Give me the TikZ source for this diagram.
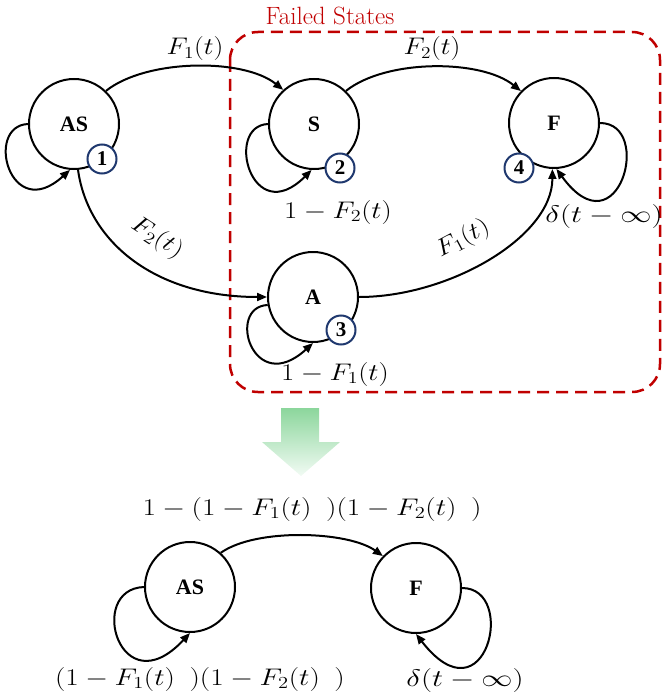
\RequirePackage{fix-cm}
\documentclass[tikz,border=0pt]{standalone}
\usepackage{fontspec}
\usepackage{graphicx}
\usetikzlibrary{arrows.meta}
\newfontfamily\tnr{Liberation Serif}
\definecolor{dred}{RGB}{192,0,0}
\definecolor{navy}{RGB}{31,56,110}
\definecolor{gtop}{RGB}{140,214,156}
\definecolor{gbot}{RGB}{242,251,244}
\newcommand\wideit[2]{\scalebox{#1}[1]{#2}}
\tikzset{
  state/.style={circle, draw=black, line width=2pt, minimum size=90pt, inner sep=0pt,
    font=\tnr\bfseries\fontsize{22}{26}\selectfont},
  badge/.style={circle, draw=navy, line width=2pt, fill=white, minimum size=29pt, inner sep=0pt,
    font=\tnr\bfseries\fontsize{21}{24}\selectfont},
  lab/.style={inner sep=0pt, font=\fontsize{24}{28}\selectfont},
  conn/.style={line width=2pt, -{Triangle[length=10pt,width=8pt]}}
}
\begin{document}
\begin{tikzpicture}[x=1pt,y=-1pt]
\useasboundingbox (0,0) rectangle (663,698);
% failed states box
\draw[dred, line width=2.5pt, dash pattern=on 12pt off 7pt, rounded corners=28pt]
  (230,32) rectangle (660,392);
\node[text=dred, inner sep=0pt, font=\fontsize{25}{28}\selectfont] (fs) at (330,16) {Failed States};
% states
\node[state] (AS) at (74,124) {AS};
\node[state] (S) at (314,124) {S};
\node[state] (F) at (554,123) {F};
\node[state] (A) at (313,297) {A};
% transitions
\draw[conn] (AS.46) .. controls +(40,-32) and +(-40,-32) .. (S.132);
\draw[conn] (S.46) .. controls +(40,-32) and +(-40,-32) .. (F.136);
\draw[conn] (AS.275) .. controls +(10,72) and +(-112,0) .. (A.180);
\draw[conn] (A.0) .. controls +(90,0) and +(0,68) .. (F.268);
% self loops
\draw[conn] (AS.180) .. controls +(-44,2) and +(-60,55) .. (AS.265);
\draw[conn] (S.180) .. controls +(-44,2) and +(-60,60) .. (S.267);
\draw[conn] (A.190) .. controls +(-42,2) and +(-60,55) .. (A.270);
\draw[conn] (F.0) .. controls +(54,0) and +(62,85) .. (F.273);
% badges
\node[badge] (b1) at (102,159) {1};
\node[badge] (b2) at (340,168) {2};
\node[badge] (b3) at (341,330) {3};
\node[badge] (b4) at (519,168) {4};
% labels
\node[lab] (l1) at (195,49) {\wideit{1.15}{$F_1(t)$}};
\node[lab] (l2) at (432,49) {\wideit{1.15}{$F_2(t)$}};
\node[lab] (l3) at (338,212) {\wideit{1.2}{$1-F_2(t)$}};
\node[lab] (l4) at (604,216) {\wideit{1.3}{$\delta(t-\infty)$}};
\node[lab, rotate=-33] (l5) at (157,238) {\wideit{1.15}{$F_2(t)$}};
\node[lab, rotate=28] (l6) at (463,239) {\wideit{1.15}{$F_1(t)$}};
\node[lab] (l7) at (335,374) {\wideit{1.2}{$1-F_1(t)$}};
% green arrow
\shade[top color=gtop, bottom color=gbot]
  (281,408) -- (319,408) -- (319,442) -- (340,442) -- (301,476) -- (262,442) -- (281,442) -- cycle;
% reduced model
\node[state] (ASb) at (190,587) {AS};
\node[state] (Fb) at (416,588) {F};
\draw[conn] (ASb.48) .. controls +(35,-25) and +(-35,-25) .. (Fb.136);
\draw[conn] (ASb.180) .. controls +(-58,2) and +(-70,75) .. (ASb.270);
\draw[conn] (Fb.0) .. controls +(56,0) and +(70,90) .. (Fb.270);
\node[lab] (l8) at (312,509) {\wideit{1.22}{$1-(1-F_1(t)\enskip)(1-F_2(t)\enskip)$}};
\node[lab] (l9) at (200,679) {\wideit{1.22}{$(1-F_1(t)\enskip)(1-F_2(t)\enskip)$}};
\node[lab] (l10) at (465,680) {\wideit{1.3}{$\delta(t-\infty)$}};
\end{tikzpicture}
\end{document}
